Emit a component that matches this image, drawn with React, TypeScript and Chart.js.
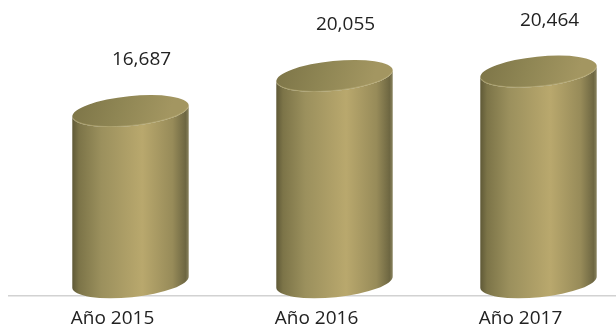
import React, { useEffect, useRef } from "react";
import { Chart, registerables } from "chart.js";

Chart.register(...registerables);

const categories = ["Año 2015", "Año 2016", "Año 2017"];
const values = [16687, 20055, 20464];
const valueLabels = ["16,687", "20,055", "20,464"];

const FONT = "'Open Sans', 'DejaVu Sans', sans-serif";

const cylinderPlugin = {
  id: "cylinders",
  afterDatasetsDraw(chart: any) {
    const ctx: CanvasRenderingContext2D = chart.ctx;
    const meta = chart.getDatasetMeta(0);
    const area = chart.chartArea;
    // baseline
    ctx.save();
    ctx.strokeStyle = "#d2d2d2";
    ctx.lineWidth = 1.5;
    ctx.beginPath();
    ctx.moveTo(8, area.bottom + 0.5);
    ctx.lineTo(chart.width, area.bottom + 0.5);
    ctx.stroke();
    ctx.restore();

    const rot = -0.1;
    const ry = 15;
    meta.data.forEach((bar: any, i: number) => {
      const p = bar.getProps(["x", "y", "base", "width"], true);
      const cx = p.x;
      const rx = p.width / 2;
      const topY = p.y - 10;
      const botY = p.base - 13;
      const c = Math.cos(rot), s = Math.sin(rot);
      ctx.save();
      // side
      const g = ctx.createLinearGradient(cx - rx, 0, cx + rx, 0);
      g.addColorStop(0, "#5e5836");
      g.addColorStop(0.06, "#7c7448");
      g.addColorStop(0.25, "#9b905d");
      g.addColorStop(0.6, "#b9a86d");
      g.addColorStop(0.86, "#978b59");
      g.addColorStop(0.97, "#6e6742");
      g.addColorStop(1, "#8a8460");
      ctx.beginPath();
      ctx.moveTo(cx - rx * c, topY - rx * s);
      ctx.lineTo(cx - rx * c, botY - rx * s);
      ctx.ellipse(cx, botY, rx, ry, rot, Math.PI, 0, true);
      ctx.lineTo(cx + rx * c, topY + rx * s);
      ctx.ellipse(cx, topY, rx, ry, rot, 0, Math.PI, false);
      ctx.closePath();
      ctx.fillStyle = g;
      ctx.fill();
      // top
      const tg = ctx.createLinearGradient(cx - rx, topY - ry, cx + rx * 0.6, topY + ry);
      tg.addColorStop(0, "#7c7447");
      tg.addColorStop(0.5, "#8f8654");
      tg.addColorStop(1, "#a39661");
      ctx.beginPath();
      ctx.ellipse(cx, topY, rx, ry, rot, 0, Math.PI * 2);
      ctx.fillStyle = tg;
      ctx.fill();
      ctx.strokeStyle = "rgba(190,178,125,0.6)";
      ctx.lineWidth = 1;
      ctx.beginPath();
      ctx.ellipse(cx, topY, rx - 0.5, ry - 0.5, rot, 0.1, Math.PI - 0.1, false);
      ctx.stroke();
      ctx.restore();

      // value label
      ctx.save();
      ctx.fillStyle = "#222222";
      ctx.font = `19px ${FONT}`;
      ctx.textAlign = "center";
      ctx.textBaseline = "middle";
      ctx.fillText(valueLabels[i], cx + 11, topY - 51);
      ctx.restore();
    });
  },
};

export default function App() {
  const ref = useRef<HTMLCanvasElement>(null);
  useEffect(() => {
    document.body.style.margin = "0";
    const chart = new Chart(ref.current!, {
      type: "bar",
      data: {
        labels: categories,
        datasets: [
          {
            data: values,
            backgroundColor: "rgba(0,0,0,0)",
            borderWidth: 0,
            barThickness: 117,
          },
        ],
      },
      options: {
        animation: false,
        responsive: false,
        layout: { padding: { left: 130.5, right: 77.5, top: 3, bottom: 0 } },
        plugins: { legend: { display: false }, tooltip: { enabled: false } },
        scales: {
          x: {
            offset: false,
            grid: { display: false, drawTicks: false, tickLength: 0 },
            border: { display: false },
            ticks: {
              color: "#222222",
              font: { family: FONT, size: 19 },
              padding: 12,
              labelOffset: -18,
              maxRotation: 0,
              autoSkip: false,
            },
          },
          y: { display: false, min: 0, max: 28000 },
        },
      },
      plugins: [cylinderPlugin],
    });
    return () => chart.destroy();
  }, []);
  return (
    <div style={{ width: 616, height: 330, overflow: "hidden" }}>
      <canvas ref={ref} width={616} height={342} style={{ display: "block" }} />
    </div>
  );
}
